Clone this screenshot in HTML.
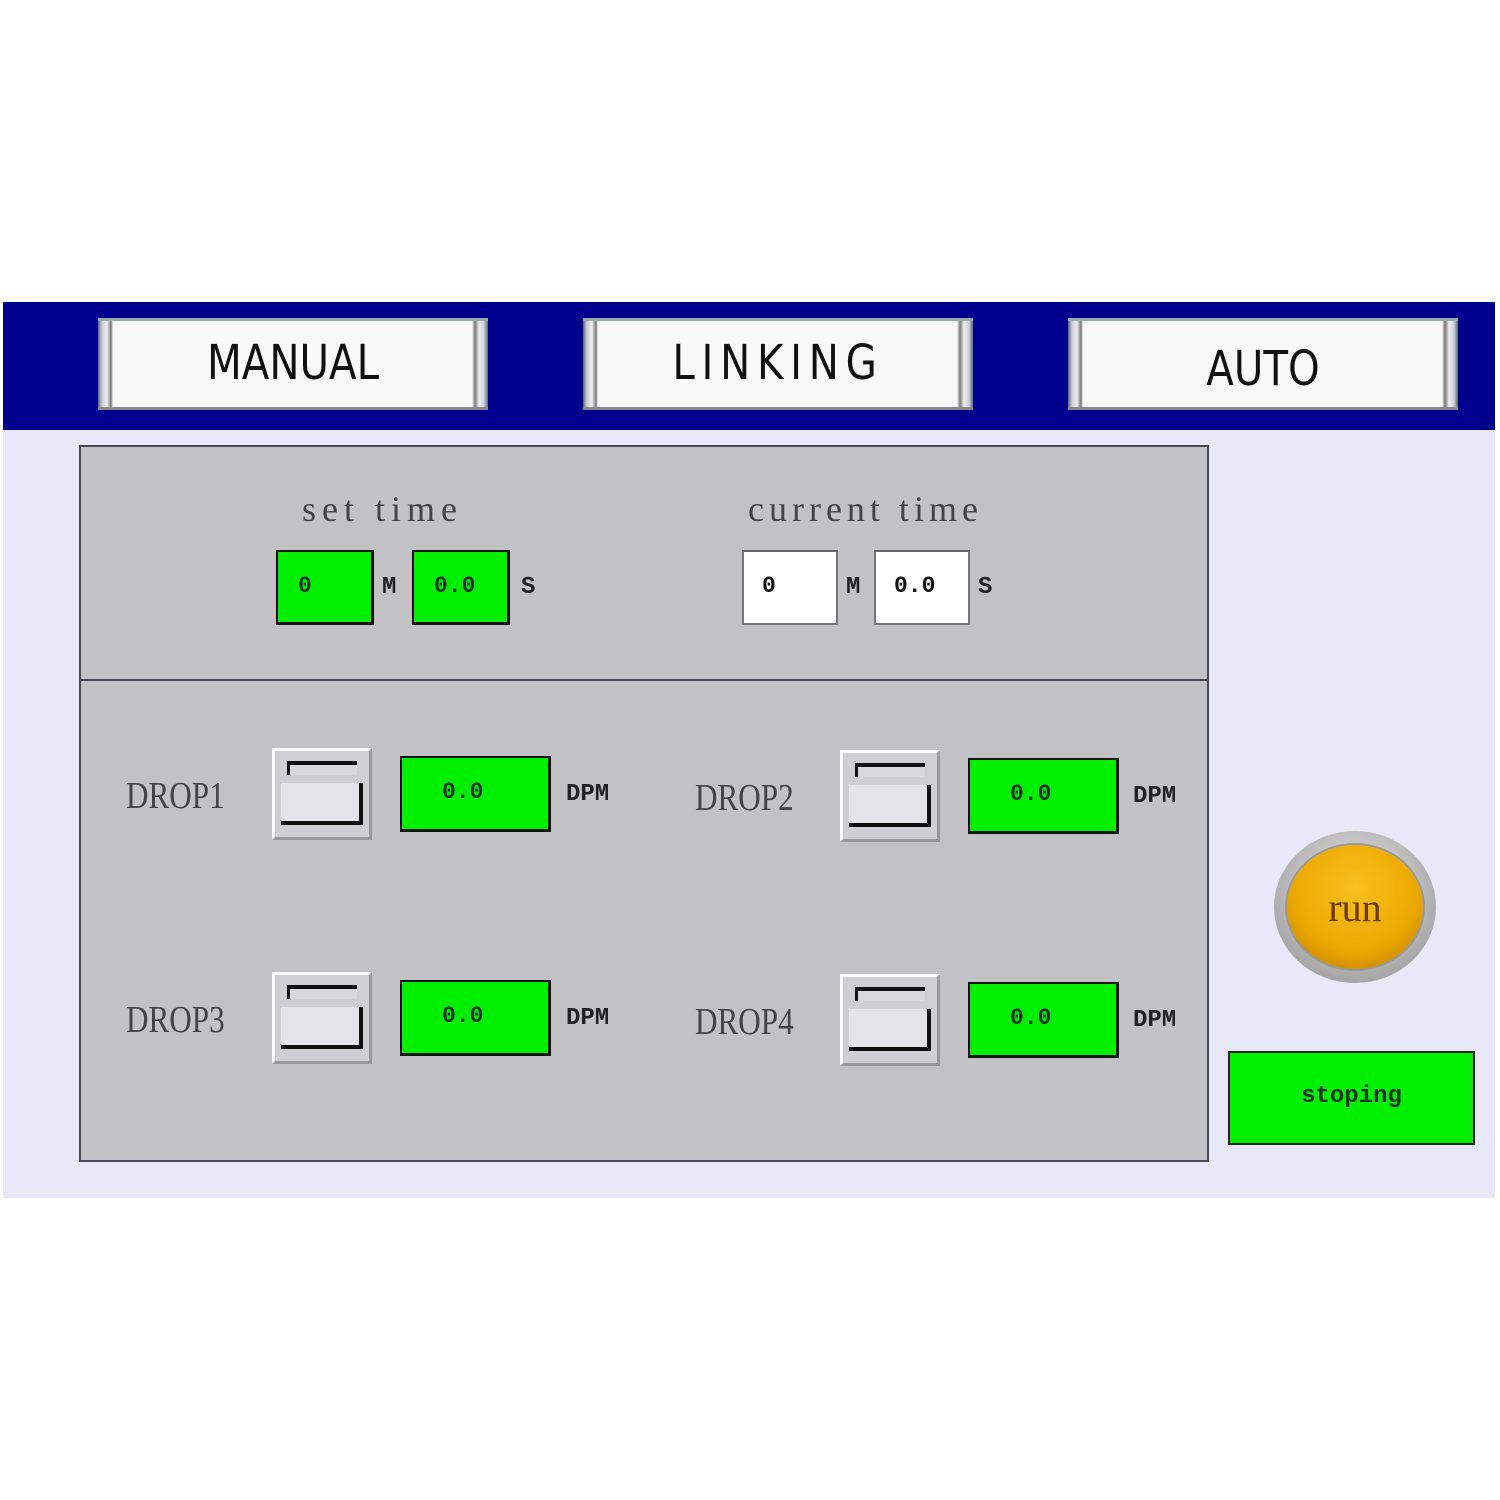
<!DOCTYPE html>
<html><head><style>
*{margin:0;padding:0;box-sizing:border-box}
body{width:1500px;height:1500px;background:#fff;position:relative;overflow:hidden;font-family:"Liberation Sans",sans-serif}
div{position:absolute}
.bar{left:3px;top:302px;width:1492px;height:128px;background:#00008e}
.bg{left:3px;top:430px;width:1492px;height:768px;background:#e9e8f8}
.btn{top:318px;width:390px;height:92px;background:linear-gradient(90deg,#5a6a6a 0,#ccd 4px,#eee 9px,#777 13px,#f8f8f8 15px,#f8f8f8 calc(100% - 16px),#777 calc(100% - 13px),#eee calc(100% - 9px),#ccd calc(100% - 4px),#5a6a6a 100%);border-top:3px solid #9aa;border-bottom:3px solid #888}
.btn span{position:absolute;left:0;right:0;top:14px;text-align:center;font-family:"DejaVu Sans",sans-serif;font-size:48px;color:#111;transform:scaleX(.84)}
.panel{left:79px;top:445px;width:1130px;height:717px;background:#c2c1c3;border:2px solid #4a4a55}
.div{left:79px;top:679px;width:1130px;height:2px;background:#4a4a55}
.lbl{font-family:"Liberation Serif",serif;font-size:36px;color:#444}
.g{background:#00f000;border:2px solid #111;border-right-width:3px;border-bottom-width:3px;font-family:"Liberation Mono",monospace;font-weight:bold;font-size:23px;color:#032}
.w{background:#fff;border:2px solid #777;border-top-color:#666;font-family:"Liberation Mono",monospace;font-weight:bold;font-size:23px;color:#111}
.u{font-family:"Liberation Mono",monospace;font-weight:bold;font-size:24px;color:#222}
.drop{font-family:"Liberation Serif",serif;font-size:38px;color:#444;transform:scaleX(.82);transform-origin:left}
.tg{width:100px;height:92px;background:#cfcfd3;border:3px solid #fff;border-right-color:#999;border-bottom-color:#999}
.tg .a{left:12px;top:10px;width:70px;height:14px;border-top:4px solid #111;border-left:3px solid #111;background:#d8d8dc}
.tg .b{left:6px;top:32px;width:82px;height:42px;background:#e4e3e7;border-right:4px solid #111;border-bottom:4px solid #111}
</style></head><body>
<div class="bar"></div>
<div class="bg"></div>
<div class="btn" style="left:98px"><span>MANUAL</span></div>
<div class="btn" style="left:583px"><span style="letter-spacing:8px">LINKING</span></div>
<div class="btn" style="left:1068px"><span style="top:20px">AUTO</span></div>
<div class="panel"></div>
<div class="div"></div>
<div class="lbl" style="left:302px;top:488px;letter-spacing:6px">set&nbsp;time</div>
<div class="lbl" style="left:748px;top:488px;letter-spacing:5px">current&nbsp;time</div>
<div class="g" style="left:276px;top:550px;width:98px;height:75px;padding:21px 0 0 20px">0</div>
<div class="u" style="left:382px;top:574px">M</div>
<div class="g" style="left:412px;top:550px;width:98px;height:75px;padding:21px 0 0 20px">0.0</div>
<div class="u" style="left:521px;top:574px">S</div>
<div class="w" style="left:742px;top:550px;width:96px;height:75px;padding:21px 0 0 18px">0</div>
<div class="u" style="left:846px;top:574px">M</div>
<div class="w" style="left:874px;top:550px;width:96px;height:75px;padding:21px 0 0 18px">0.0</div>
<div class="u" style="left:978px;top:574px">S</div>

<div class="drop" style="left:126px;top:774px">DROP1</div>
<div class="tg" style="left:272px;top:748px"><div class="a"></div><div class="b"></div></div>
<div class="g" style="left:400px;top:756px;width:151px;height:76px;padding:21px 0 0 40px">0.0</div>
<div class="u" style="left:566px;top:781px">DPM</div>

<div class="drop" style="left:695px;top:776px">DROP2</div>
<div class="tg" style="left:840px;top:750px"><div class="a"></div><div class="b"></div></div>
<div class="g" style="left:968px;top:758px;width:151px;height:76px;padding:21px 0 0 40px">0.0</div>
<div class="u" style="left:1133px;top:783px">DPM</div>

<div class="drop" style="left:126px;top:998px">DROP3</div>
<div class="tg" style="left:272px;top:972px"><div class="a"></div><div class="b"></div></div>
<div class="g" style="left:400px;top:980px;width:151px;height:76px;padding:21px 0 0 40px">0.0</div>
<div class="u" style="left:566px;top:1005px">DPM</div>

<div class="drop" style="left:695px;top:1000px">DROP4</div>
<div class="tg" style="left:840px;top:974px"><div class="a"></div><div class="b"></div></div>
<div class="g" style="left:968px;top:982px;width:151px;height:76px;padding:21px 0 0 40px">0.0</div>
<div class="u" style="left:1133px;top:1007px">DPM</div>

<div style="left:1274px;top:831px;width:162px;height:152px;border-radius:50%;background:radial-gradient(circle at 50% 40%,#eee,#aaa 70%,#888)"></div>
<div style="left:1287px;top:845px;width:136px;height:124px;border-radius:50%;background:radial-gradient(circle at 50% 35%,#f8c020,#eca800 60%,#b07000);box-shadow:0 0 0 2px #999"></div>
<div style="left:1274px;top:884px;width:162px;text-align:center;font-family:'Liberation Serif',serif;font-size:40px;color:#6a3a00">run</div>

<div style="left:1228px;top:1051px;width:247px;height:94px;background:#00f000;border:2px solid #222"></div>
<div style="left:1228px;top:1083px;width:247px;text-align:center;font-family:'Liberation Mono',monospace;font-weight:bold;font-size:24px;color:#032">stoping</div>
</body></html>
